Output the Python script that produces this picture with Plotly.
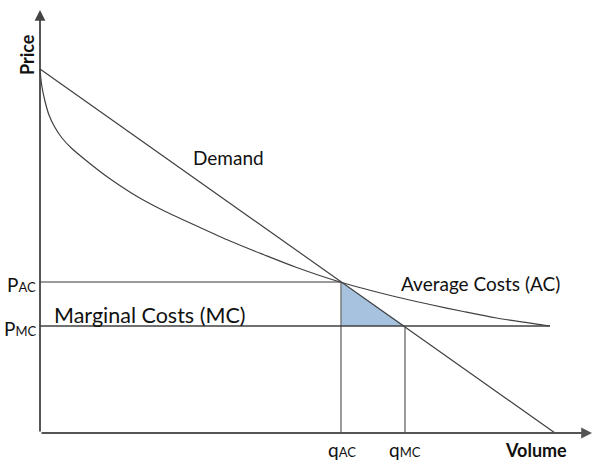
import plotly.graph_objects as go

# Data (x: volume units, y: price units)
demand_x = [0, 515]
demand_y = [364, 0]
ac_x = [0, 1.5, 4.7, 9, 14.7, 22, 31.3, 48, 64.7, 81.3, 98, 123.3, 156.7, 190, 223.3, 256.7, 300, 356.7, 390, 423.3, 456.7, 503.3, 510]
ac_y = [364, 349, 333, 318, 306, 295, 285, 271, 258, 246.5, 236, 222.5, 207, 192, 178.5, 165.5, 151, 136, 128.5, 121.5, 115, 108, 107]
mc_x = [0, 510]
mc_y = [107, 107]
q_ac, p_ac = 301, 151
q_mc, p_mc = 365, 107

FONT = "Lato"
DARK = "#404040"
GRAY = "#7a7a7a"

fig = go.Figure()

# Shaded triangle
fig.add_trace(go.Scatter(x=[q_ac, q_ac, q_mc, q_ac], y=[p_ac, p_mc, p_mc, p_ac],
                         fill="toself", fillcolor="#a7c2de", mode="lines",
                         line=dict(color="rgba(0,0,0,0)", width=0), hoverinfo="skip"))
# PAC horizontal and qAC vertical
fig.add_trace(go.Scatter(x=[0, q_ac], y=[p_ac, p_ac], mode="lines", line=dict(color=GRAY, width=1.5)))
fig.add_trace(go.Scatter(x=[q_ac, q_ac], y=[0, p_ac], mode="lines", line=dict(color=GRAY, width=1.5)))
# MC line and qMC vertical
fig.add_trace(go.Scatter(x=mc_x, y=mc_y, mode="lines", line=dict(color=DARK, width=1.3)))
fig.add_trace(go.Scatter(x=[q_mc, q_mc], y=[0, p_mc], mode="lines", line=dict(color=GRAY, width=1.5)))
# AC curve
fig.add_trace(go.Scatter(x=ac_x, y=ac_y, mode="lines", line=dict(color=DARK, width=1.2, shape="spline", smoothing=0.8)))
# Demand
fig.add_trace(go.Scatter(x=demand_x, y=demand_y, mode="lines", line=dict(color=DARK, width=1.2)))

annotations = []
# Axis arrows
annotations.append(dict(x=0, y=423, ax=0, ay=0, xref="x", yref="y", axref="x", ayref="y",
                        showarrow=True, arrowhead=2, arrowsize=1.2, arrowwidth=1.8, arrowcolor="#444444", text=""))
annotations.append(dict(x=552, y=0, ax=0, ay=0, xref="x", yref="y", axref="x", ayref="y",
                        showarrow=True, arrowhead=2, arrowsize=1.2, arrowwidth=1.8, arrowcolor="#555555", text=""))

def txt(x, y, t, size=19, bold=False, angle=0, xanchor="center"):
    if bold:
        t = "<b>" + t + "</b>"
    annotations.append(dict(x=x, y=y, xref="x", yref="y", text=t, showarrow=False, textangle=angle,
                            xanchor=xanchor, yanchor="middle", font=dict(family=FONT, size=size, color="#111111")))

txt(-13, 378, "Price", size=18, bold=True, angle=-90)
txt(188, 276, "Demand")
txt(440, 150, "Average Costs (AC)")
txt(109, 118, "Marginal Costs (MC)", size=21.5)
txt(-19, 149, "P<span style='font-size:13px'>AC</span>")
txt(-20, 105, "P<span style='font-size:13px'>MC</span>")
txt(302, -16, "q<span style='font-size:13px'>AC</span>")
txt(365, -16, "q<span style='font-size:13px'>MC</span>")
txt(496, -17, "Volume", size=18, bold=True)

fig.update_layout(
    width=593, height=460,
    margin=dict(l=0, r=0, t=0, b=0),
    paper_bgcolor="white", plot_bgcolor="white",
    showlegend=False,
    annotations=annotations,
    xaxis=dict(range=[-40, 553], visible=False, fixedrange=True),
    yaxis=dict(range=[-27, 433], visible=False, fixedrange=True),
)
fig.write_html("out.html", config={"displayModeBar": False},
               post_script="document.body.style.margin='0';document.body.style.overflow='hidden';")
